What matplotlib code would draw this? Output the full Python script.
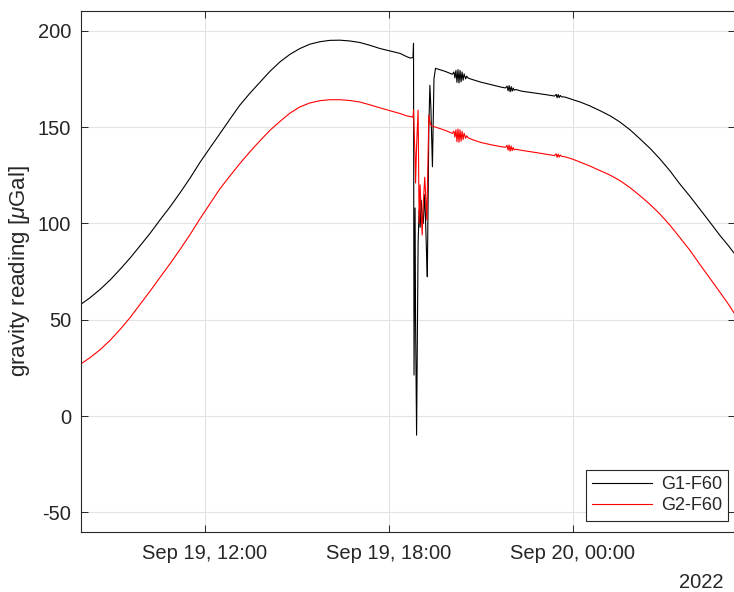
import matplotlib
matplotlib.use("Agg")
import matplotlib.pyplot as plt
import pandas as pd

plt.rcParams['font.family'] = ['Liberation Sans', 'DejaVu Sans']
plt.rcParams['mathtext.fontset'] = 'custom'
plt.rcParams['mathtext.rm'] = 'Liberation Sans'
plt.rcParams['mathtext.it'] = 'Liberation Sans:italic'

# ---- data ----
times = [
    # Sep 19, smooth tidal rise
    "2022-09-19 07:55", "2022-09-19 08:15", "2022-09-19 08:35", "2022-09-19 08:55",
    "2022-09-19 09:14", "2022-09-19 09:34", "2022-09-19 09:53", "2022-09-19 10:13",
    "2022-09-19 10:32", "2022-09-19 10:52", "2022-09-19 11:11", "2022-09-19 11:31",
    "2022-09-19 11:50", "2022-09-19 12:10", "2022-09-19 12:29", "2022-09-19 12:49",
    "2022-09-19 13:08", "2022-09-19 13:28", "2022-09-19 13:48", "2022-09-19 14:07",
    "2022-09-19 14:27", "2022-09-19 14:46", "2022-09-19 15:06", "2022-09-19 15:25",
    "2022-09-19 15:45", "2022-09-19 16:04", "2022-09-19 16:24", "2022-09-19 16:43",
    "2022-09-19 17:03", "2022-09-19 17:22", "2022-09-19 17:42", "2022-09-19 18:02",
    "2022-09-19 18:22", "2022-09-19 18:35", "2022-09-19 18:42",
    # disturbance
    "2022-09-19 18:45", "2022-09-19 18:47", "2022-09-19 18:48", "2022-09-19 18:49",
    "2022-09-19 18:51", "2022-09-19 18:52", "2022-09-19 18:54", "2022-09-19 18:57",
    "2022-09-19 18:59", "2022-09-19 19:01", "2022-09-19 19:03", "2022-09-19 19:05",
    "2022-09-19 19:07", "2022-09-19 19:10", "2022-09-19 19:14", "2022-09-19 19:15",
    "2022-09-19 19:18", "2022-09-19 19:20", "2022-09-19 19:22", "2022-09-19 19:25",
    "2022-09-19 19:28", "2022-09-19 19:31",
    # after
    "2022-09-19 19:50", "2022-09-19 20:04", "2022-09-19 20:07", "2022-09-19 20:09",
    "2022-09-19 20:11", "2022-09-19 20:13", "2022-09-19 20:15", "2022-09-19 20:17",
    "2022-09-19 20:19", "2022-09-19 20:21", "2022-09-19 20:23", "2022-09-19 20:25",
    "2022-09-19 20:27", "2022-09-19 20:30", "2022-09-19 20:32", "2022-09-19 20:35",
    "2022-09-19 20:44", "2022-09-19 21:00", "2022-09-19 21:20", "2022-09-19 21:40",
    "2022-09-19 21:48", "2022-09-19 21:51", "2022-09-19 21:53", "2022-09-19 21:55",
    "2022-09-19 21:57", "2022-09-19 21:59", "2022-09-19 22:01", "2022-09-19 22:03",
    "2022-09-19 22:05", "2022-09-19 22:08", "2022-09-19 22:20", "2022-09-19 22:47",
    "2022-09-19 23:10", "2022-09-19 23:24", "2022-09-19 23:27", "2022-09-19 23:29",
    "2022-09-19 23:31", "2022-09-19 23:33", "2022-09-19 23:35", "2022-09-19 23:38",
    "2022-09-19 23:44",
    # Sep 20, tidal fall
    "2022-09-20 00:00", "2022-09-20 00:14", "2022-09-20 00:33", "2022-09-20 00:53",
    "2022-09-20 01:13", "2022-09-20 01:32", "2022-09-20 01:52", "2022-09-20 02:11",
    "2022-09-20 02:31", "2022-09-20 02:50", "2022-09-20 03:10", "2022-09-20 03:29",
    "2022-09-20 03:49", "2022-09-20 04:08", "2022-09-20 04:28", "2022-09-20 04:48",
    "2022-09-20 05:03", "2022-09-20 05:17",
]
g1_f60 = [
    57.6, 61.4, 65.8, 70.8,
    76.2, 82.2, 88.4, 95.0,
    101.8, 108.7, 115.8, 123.6,
    131.6, 139.3, 146.5, 154.2,
    161.3, 167.6, 173.4, 178.9,
    183.9, 187.7, 190.8, 193.0,
    194.3, 195.0, 195.1, 194.7,
    193.9, 192.5, 190.8, 189.5,
    188.2, 186.5, 185.8,
    186.0, 186.0, 193.5, 21.3,
    108.0, 50.0, -9.9, 90.0,
    107.0, 98.0, 112.0, 104.0,
    100.0, 115.0, 80.0, 72.3,
    150.0, 171.7, 160.0, 129.4,
    175.0, 180.5,
    178.9, 177.4, 178.6, 175.5,
    179.4, 173.2, 179.8, 172.9,
    179.4, 173.5, 178.6, 174.3,
    177.6, 175.0, 176.4, 175.4,
    174.6, 173.3, 172.0, 170.7,
    170.3, 171.3, 168.8, 171.5,
    168.3, 171.0, 168.6, 170.3,
    169.1, 169.5, 168.6, 167.6,
    166.7, 166.1, 167.0, 165.2,
    166.9, 165.3, 166.4, 165.7,
    165.6,
    164.2, 163.0, 161.0, 158.5,
    155.8, 152.6, 148.5, 143.9,
    138.9, 133.5, 127.2, 120.5,
    114.0, 107.5, 100.6, 93.6,
    88.8, 84.0,
]
g2_f60 = [
    26.7, 30.3, 34.5, 39.5,
    45.0, 51.3, 58.0, 65.0,
    72.0, 79.2, 86.4, 94.3,
    102.3, 110.3, 117.9, 124.7,
    131.0, 137.2, 143.0, 148.3,
    153.0, 157.2, 160.5, 162.5,
    163.7, 164.2, 164.2, 163.8,
    163.0, 161.6, 160.0, 158.5,
    157.0, 155.8, 155.4,
    155.3, 155.0, 158.8, 150.0,
    135.0, 121.0, 140.0, 158.8,
    100.0, 120.0, 105.0, 94.0,
    110.0, 124.0, 101.8, 115.0,
    156.3, 153.0, 151.0, 150.5,
    150.2, 150.0,
    148.3, 146.7, 147.9, 144.8,
    148.6, 142.4, 149.0, 142.1,
    148.6, 142.7, 147.8, 143.5,
    146.8, 144.2, 145.5, 144.4,
    143.4, 142.0, 140.8, 139.8,
    139.5, 140.5, 138.0, 140.7,
    137.5, 140.2, 137.8, 139.4,
    138.2, 138.5, 137.9, 136.8,
    135.8, 135.2, 136.1, 134.3,
    136.0, 134.4, 135.5, 134.8,
    134.6,
    133.3, 131.8, 129.8, 127.4,
    125.0, 122.2, 118.5, 114.4,
    109.8, 104.9, 99.0, 92.7,
    86.0, 78.8, 71.5, 64.1,
    58.5, 52.8,
]
series_labels = ["G1-F60", "G2-F60"]
xtick_times = ["2022-09-19 12:00", "2022-09-19 18:00", "2022-09-20 00:00"]
xtick_labels = ["Sep 19, 12:00", "Sep 19, 18:00", "Sep 20, 00:00"]
yticks = [-50, 0, 50, 100, 150, 200]
year_label = "2022"

# ---- plot ----
W, H = 734, 592
fig = plt.figure(figsize=(W / 100, H / 100), dpi=100)
left, right, top, bottom = 81, 735, 10.5, 531.7
ax = fig.add_axes([left / W, 1 - bottom / H, (right - left) / W, (bottom - top) / H])

t = pd.to_datetime(times)
ax.plot(t, g1_f60, color='black', lw=0.8, label=series_labels[0])
ax.plot(t, g2_f60, color='#ff0000', lw=0.8, label=series_labels[1])

ax.set_xlim(pd.Timestamp("2022-09-19 07:57:25"), pd.Timestamp("2022-09-20 05:17:00"))
ax.set_ylim(-60, 210.5)
ax.set_xticks(pd.to_datetime(xtick_times))
ax.set_xticklabels(xtick_labels)
ax.set_yticks(yticks)
ax.set_yticklabels([str(v) for v in yticks])

axc = '#262626'
for s in ax.spines.values():
    s.set_color(axc)
    s.set_linewidth(0.8)
ax.tick_params(direction='in', length=5, width=0.7, colors=axc, labelsize=14.5,
               top=True, right=True, pad=9)
ax.tick_params(axis='y', pad=7)
ax.grid(True, color='#e3e3e3', lw=0.8)
ax.set_axisbelow(True)

ax.set_ylabel(r'gravity reading [$\mu$Gal]', fontsize=16, color=axc)
ax.yaxis.set_label_coords((32 - left) / (right - left), 0.5)

fig.text(723 / W, 1 - 583 / H, year_label, ha='right', va='center', fontsize=14.5, color=axc)

leg = ax.legend(loc='lower right', bbox_to_anchor=(728.3 / W, 1 - 520.7 / H),
                bbox_transform=fig.transFigure, borderaxespad=0, fontsize=13,
                handlelength=3.3, handletextpad=0.5, labelspacing=0.25,
                borderpad=0.35, fancybox=False, framealpha=1, edgecolor=axc)
leg.get_frame().set_linewidth(0.8)
for txt in leg.get_texts():
    txt.set_color(axc)

fig.savefig("out.png", dpi=100)
